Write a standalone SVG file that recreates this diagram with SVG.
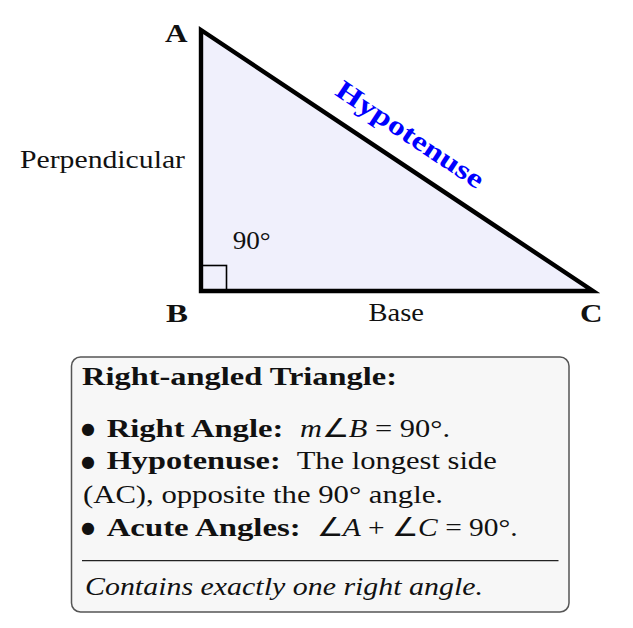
<svg xmlns="http://www.w3.org/2000/svg" width="633" height="628" viewBox="0 0 633 628">
<style>
text{font-family:"Liberation Serif","Times New Roman",serif;fill:#111;}
.b{font-weight:bold;}
.i{font-style:italic;}
.lbl{font-size:26px;}
.box{font-size:26px;}
.bul{font-size:16px;font-family:"DejaVu Sans",sans-serif;}
</style>
<rect width="633" height="628" fill="#ffffff"/>
<g id="triangle">
<polygon points="201,30 201,291 593,291" fill="#f0f0fc" stroke="none"/>
<rect x="201" y="265.5" width="25.5" height="25.5" fill="none" stroke="#000" stroke-width="1.6"/>
<polygon points="201,30 201,291 593,291" fill="none" stroke="#000" stroke-width="4.4" stroke-linejoin="miter"/>
</g>
<g id="labels">
<text class="lbl b" x="165" y="42" textLength="22.5" lengthAdjust="spacingAndGlyphs">A</text>
<text class="lbl b" x="166" y="322" textLength="22" lengthAdjust="spacingAndGlyphs">B</text>
<text class="lbl b" x="580" y="322" textLength="22.5" lengthAdjust="spacingAndGlyphs">C</text>
<text class="lbl" x="20" y="168" textLength="165" lengthAdjust="spacingAndGlyphs">Perpendicular</text>
<text class="lbl" x="368.5" y="321" textLength="55.5" lengthAdjust="spacingAndGlyphs">Base</text>
<text class="lbl" x="232.7" y="248.5" textLength="38" lengthAdjust="spacingAndGlyphs">90°</text>
<text class="lbl b" x="0" y="0" text-anchor="middle" textLength="172" lengthAdjust="spacingAndGlyphs" style="fill:#0000ff;font-size:27px" transform="translate(405.3,141.9) rotate(33.66)">Hypotenuse</text>
</g>
<g id="infobox">
<rect x="71.5" y="357" width="497.5" height="255" rx="9" ry="9" fill="#f7f7f7" stroke="#555" stroke-width="1.5"/>
<text class="box b" x="82" y="385" textLength="315" lengthAdjust="spacingAndGlyphs">Right-angled Triangle:</text>
<text class="bul" x="81" y="434.2">●</text>
<text class="box b" x="106.7" y="437" textLength="176.6" lengthAdjust="spacingAndGlyphs">Right Angle:</text>
<text class="box" x="300" y="437" textLength="150" lengthAdjust="spacingAndGlyphs"><tspan class="i">m</tspan>∠<tspan class="i">B</tspan> = 90°.</text>
<text class="bul" x="81" y="466.5">●</text>
<text class="box b" x="106.7" y="469.3" textLength="174" lengthAdjust="spacingAndGlyphs">Hypotenuse:</text>
<text class="box" x="296.7" y="469.3" textLength="200" lengthAdjust="spacingAndGlyphs">The longest side</text>
<text class="box" x="83" y="503" textLength="360" lengthAdjust="spacingAndGlyphs">(AC), opposite the 90° angle.</text>
<text class="bul" x="81" y="532.7">●</text>
<text class="box b" x="106.7" y="535.5" textLength="194" lengthAdjust="spacingAndGlyphs">Acute Angles:</text>
<text class="box" x="316.7" y="535.5" textLength="201" lengthAdjust="spacingAndGlyphs">∠<tspan class="i">A</tspan> + ∠<tspan class="i">C</tspan> = 90°.</text>
<line x1="82" y1="560.7" x2="558.5" y2="560.7" stroke="#222" stroke-width="1.3"/>
<text class="box i" x="85" y="595" textLength="398" lengthAdjust="spacingAndGlyphs">Contains exactly one right angle.</text>
</g>
</svg>
